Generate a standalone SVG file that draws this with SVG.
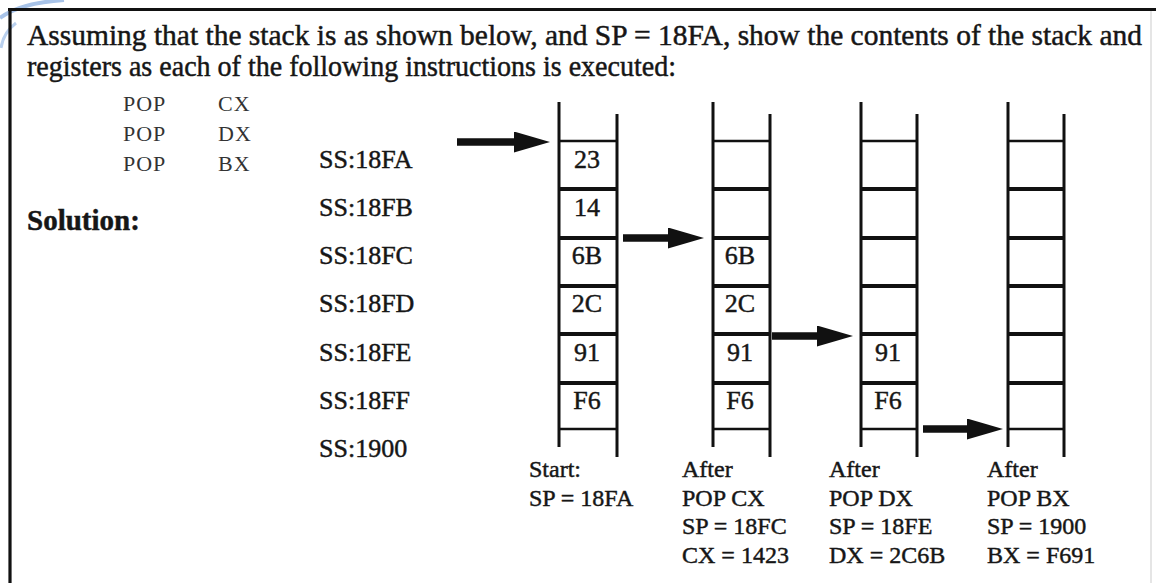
<svg xmlns="http://www.w3.org/2000/svg" width="1156" height="583" viewBox="0 0 1156 583">
<style>
.t{font-family:"Liberation Serif","Times New Roman",serif;fill:#161616;stroke:#161616;stroke-width:0.45}
.title{font-size:28.5px}
.sol{font-size:29px;font-weight:bold}
.code{font-family:"Liberation Serif","Times New Roman",serif;font-size:22px;fill:#333;letter-spacing:1px}
.addr{font-size:26px}
.cell{font-size:26px;text-anchor:middle}
.lab{font-size:24px}
.v{stroke:#111;stroke-width:3;fill:none}
.h{stroke:#111;stroke-width:3.8;fill:none}
.hs{stroke:#111;stroke-width:2.5;fill:none}
.arr{stroke:#111;stroke-width:7.5;marker-end:url(#head)}
</style>
<defs>
<marker id="head" markerUnits="userSpaceOnUse" viewBox="0 0 36 21" markerWidth="36" markerHeight="21" refX="1" refY="10.5" orient="auto">
<path d="M0,0 L36,10.5 L0,21 Z" fill="#111"/>
</marker>
</defs>
<rect width="1156" height="583" fill="#fff"/>
<g id="decor" fill="none">
<path d="M0,18 Q20,3 64,0" stroke="#a8c3e8" stroke-width="4"/>
<path d="M1,48 Q3,33 16,23" stroke="#b9d0ee" stroke-width="3"/>
</g>
<g id="frame">
<line x1="8" y1="9.5" x2="1156" y2="9.5" stroke="#111" stroke-width="3"/>
<line x1="10" y1="8" x2="10" y2="583" stroke="#111" stroke-width="3.2"/>
<line x1="1151" y1="11" x2="1151" y2="583" stroke="#ddd" stroke-width="1.5"/>
</g>
<g id="question">
<text class="t title" x="27" y="45" textLength="1115" lengthAdjust="spacingAndGlyphs">Assuming that the stack is as shown below, and SP = 18FA, show the contents of the stack and</text>
<text class="t title" x="27" y="76" textLength="649" lengthAdjust="spacingAndGlyphs">registers as each of the following instructions is executed:</text>
<text class="code" x="123" y="111">POP</text><text class="code" x="218" y="111">CX</text>
<text class="code" x="123" y="141">POP</text><text class="code" x="218" y="141">DX</text>
<text class="code" x="123" y="171">POP</text><text class="code" x="218" y="171">BX</text>
<text class="t sol" x="27" y="230">Solution:</text>
</g>
<g id="addresses">
<text class="t addr" x="319" y="168">SS:18FA</text>
<text class="t addr" x="319" y="216">SS:18FB</text>
<text class="t addr" x="319" y="264">SS:18FC</text>
<text class="t addr" x="319" y="312">SS:18FD</text>
<text class="t addr" x="319" y="361">SS:18FE</text>
<text class="t addr" x="319" y="409">SS:18FF</text>
<text class="t addr" x="319" y="457">SS:1900</text>
</g>
<g id="stack-start">
<line class="v" x1="559" y1="102" x2="559" y2="447"/>
<line class="v" x1="617" y1="114" x2="617" y2="457"/>
<line class="hs" x1="559" y1="141" x2="617" y2="141"/>
<line class="h" x1="559" y1="189" x2="617" y2="189"/>
<line class="h" x1="559" y1="238" x2="617" y2="238"/>
<line class="h" x1="559" y1="286" x2="617" y2="286"/>
<line class="h" x1="559" y1="334" x2="617" y2="334"/>
<line class="h" x1="559" y1="383" x2="617" y2="383"/>
<line class="hs" x1="559" y1="429" x2="617" y2="429"/>
<text class="t cell" x="587" y="168">23</text>
<text class="t cell" x="587" y="216">14</text>
<text class="t cell" x="587" y="264">6B</text>
<text class="t cell" x="587" y="312">2C</text>
<text class="t cell" x="587" y="361">91</text>
<text class="t cell" x="587" y="409">F6</text>
<text class="t lab" x="529" y="477">Start:</text>
<text class="t lab" x="529" y="506">SP = 18FA</text>
</g>
<g id="stack-popcx">
<line class="v" x1="713" y1="102" x2="713" y2="447"/>
<line class="v" x1="770" y1="114" x2="770" y2="457"/>
<line class="hs" x1="713" y1="141" x2="770" y2="141"/>
<line class="h" x1="713" y1="189" x2="770" y2="189"/>
<line class="h" x1="713" y1="238" x2="770" y2="238"/>
<line class="h" x1="713" y1="286" x2="770" y2="286"/>
<line class="h" x1="713" y1="334" x2="770" y2="334"/>
<line class="h" x1="713" y1="383" x2="770" y2="383"/>
<line class="hs" x1="713" y1="429" x2="770" y2="429"/>
<text class="t cell" x="740" y="264">6B</text>
<text class="t cell" x="740" y="312">2C</text>
<text class="t cell" x="740" y="361">91</text>
<text class="t cell" x="740" y="409">F6</text>
<text class="t lab" x="682" y="477">After</text>
<text class="t lab" x="682" y="506">POP CX</text>
<text class="t lab" x="682" y="534">SP = 18FC</text>
<text class="t lab" x="682" y="563">CX = 1423</text>
</g>
<g id="stack-popdx">
<line class="v" x1="861" y1="102" x2="861" y2="447"/>
<line class="v" x1="917" y1="114" x2="917" y2="457"/>
<line class="hs" x1="861" y1="141" x2="917" y2="141"/>
<line class="h" x1="861" y1="189" x2="917" y2="189"/>
<line class="h" x1="861" y1="238" x2="917" y2="238"/>
<line class="h" x1="861" y1="286" x2="917" y2="286"/>
<line class="h" x1="861" y1="334" x2="917" y2="334"/>
<line class="h" x1="861" y1="383" x2="917" y2="383"/>
<line class="hs" x1="861" y1="429" x2="917" y2="429"/>
<text class="t cell" x="888" y="361">91</text>
<text class="t cell" x="888" y="409">F6</text>
<text class="t lab" x="829" y="477">After</text>
<text class="t lab" x="829" y="506">POP DX</text>
<text class="t lab" x="829" y="534">SP = 18FE</text>
<text class="t lab" x="829" y="563">DX = 2C6B</text>
</g>
<g id="stack-popbx">
<line class="v" x1="1008" y1="102" x2="1008" y2="447"/>
<line class="v" x1="1064" y1="114" x2="1064" y2="457"/>
<line class="hs" x1="1008" y1="141" x2="1064" y2="141"/>
<line class="h" x1="1008" y1="189" x2="1064" y2="189"/>
<line class="h" x1="1008" y1="238" x2="1064" y2="238"/>
<line class="h" x1="1008" y1="286" x2="1064" y2="286"/>
<line class="h" x1="1008" y1="334" x2="1064" y2="334"/>
<line class="h" x1="1008" y1="383" x2="1064" y2="383"/>
<line class="hs" x1="1008" y1="429" x2="1064" y2="429"/>
<text class="t lab" x="987" y="477">After</text>
<text class="t lab" x="987" y="506">POP BX</text>
<text class="t lab" x="987" y="534">SP = 1900</text>
<text class="t lab" x="987" y="563">BX = F691</text>
</g>
<g id="connectors">
<line class="arr" x1="457" y1="142" x2="515" y2="142"/>
<line class="arr" x1="623" y1="238" x2="669" y2="238"/>
<line class="arr" x1="772" y1="336" x2="818" y2="336"/>
<line class="arr" x1="923" y1="429" x2="968" y2="429"/>
</g>
</svg>
